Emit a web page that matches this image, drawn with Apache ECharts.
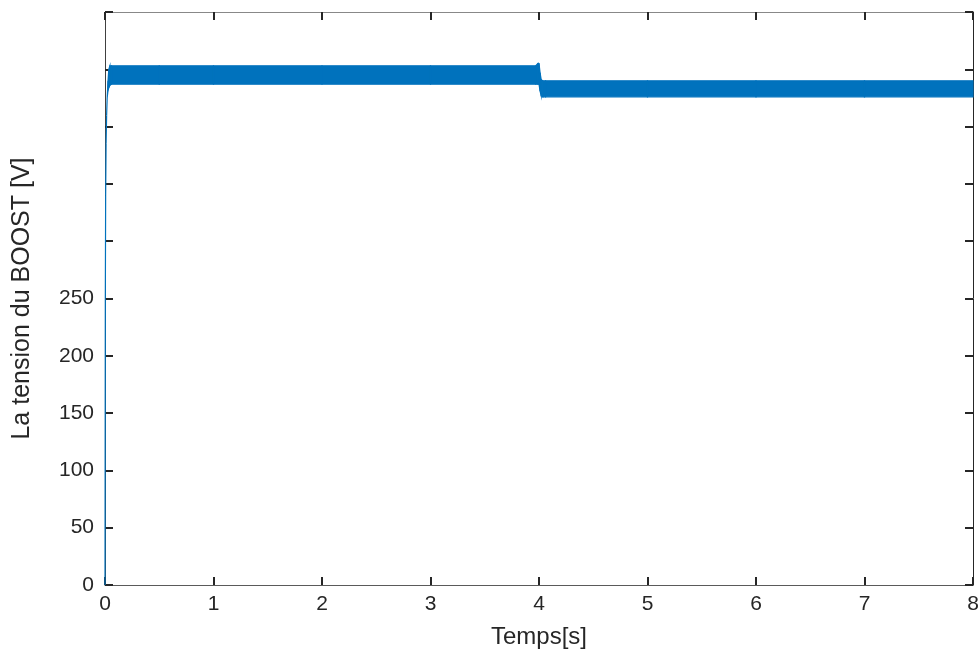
<!DOCTYPE html>
<html>
<head>
<meta charset="utf-8">
<script src="https://cdn.jsdelivr.net/npm/echarts@6/dist/echarts.min.js"></script>
<style>
html,body{margin:0;padding:0;background:#fff;}
#chart{width:980px;height:651px;}
</style>
</head>
<body>
<div id="chart"></div>
<script>
// Time samples [s]
const timeS  = [0, 0.003, 0.006, 0.01, 0.015, 0.02, 0.028, 0.035, 0.045, 0.06, 0.5, 1, 2, 3, 3.97, 3.99, 4.0, 4.01, 4.02, 4.035, 4.06, 5, 6, 7, 8];
// Lower envelope of the boost voltage ripple [V]
const lowerV = [0, 250, 340, 385, 410, 425, 432, 434, 436, 437, 437, 437, 437, 437, 437, 437, 437, 431, 427, 426, 426, 426, 426, 426, 426];
// Upper envelope of the boost voltage ripple [V]
const upperV = [0, 250, 340, 385, 410, 425, 440, 450, 453, 453, 453, 453, 453, 453, 453, 455, 455, 447, 441, 440, 440, 440, 440, 440, 440];
// Axis ticks
const xTicks = [0, 1, 2, 3, 4, 5, 6, 7, 8];
const yLabelled = [0, 50, 100, 150, 200, 250];

const BLUE = '#0072BD';
const TXT = '#262626';
const FONT = 'Liberation Sans, Arial, sans-serif';

// one band segment per consecutive pair of samples
const bandData = [];
for (let i = 0; i < timeS.length - 1; i++) {
  bandData.push([timeS[i], lowerV[i], upperV[i], timeS[i + 1], lowerV[i + 1], upperV[i + 1]]);
}

const chart = echarts.init(document.getElementById('chart'), null, {renderer: 'canvas'});
chart.setOption({
  animation: false,
  backgroundColor: '#fff',
  grid: {left: 105, right: 7, top: 12, bottom: 66, containLabel: false, outerBoundsMode: 'none'},
  xAxis: [{
    type: 'value', min: xTicks[0], max: xTicks[xTicks.length - 1], interval: 1,
    name: 'Temps[s]', nameLocation: 'middle', nameGap: 40,
    nameTextStyle: {fontFamily: FONT, fontSize: 24, color: TXT},
    axisLine: {show: true, onZero: false, lineStyle: {color: '#5a5a5a', width: 1}},
    axisTick: {show: true, inside: true, length: 8, lineStyle: {color: TXT, width: 2}},
    axisLabel: {show: true, margin: 9, fontFamily: FONT, fontSize: 21, color: TXT},
    splitLine: {show: false}
  }, {
    type: 'value', position: 'top', min: 0, max: 8, interval: 1,
    axisLine: {show: true, onZero: false, lineStyle: {color: '#888888', width: 1}},
    axisTick: {show: true, inside: true, length: 8, lineStyle: {color: TXT, width: 2}},
    axisLabel: {show: false}, splitLine: {show: false}
  }],
  yAxis: [{
    type: 'value', min: 0, max: 500, interval: 50,
    name: 'La tension du BOOST [V]', nameLocation: 'middle', nameGap: 70, nameRotate: 90,
    nameTextStyle: {fontFamily: FONT, fontSize: 25, color: TXT},
    axisLine: {show: true, onZero: false, lineStyle: {color: '#404040', width: 1}},
    axisTick: {show: true, inside: true, length: 8, lineStyle: {color: TXT, width: 2}},
    axisLabel: {show: true, margin: 11, fontFamily: FONT, fontSize: 21, color: TXT,
      formatter: v => yLabelled.indexOf(v) >= 0 ? String(v) : ''},
    splitLine: {show: false}
  }, {
    type: 'value', position: 'right', min: 0, max: 500, interval: 50,
    axisLine: {show: true, onZero: false, lineStyle: {color: '#262626', width: 1}},
    axisTick: {show: true, inside: true, length: 8, lineStyle: {color: TXT, width: 2}},
    axisLabel: {show: false}, splitLine: {show: false}
  }],
  series: [{
    type: 'custom', name: 'ripple band', data: bandData,
    xAxisIndex: 0, yAxisIndex: 0, clip: false, z: 5,
    encode: {x: [0, 3], y: [1, 2, 4, 5]},
    renderItem: function (params, api) {
      const a0 = api.coord([api.value(0), api.value(1)]);
      const b0 = api.coord([api.value(0), api.value(2)]);
      const a1 = api.coord([api.value(3), api.value(4)]);
      const b1 = api.coord([api.value(3), api.value(5)]);
      return {
        type: 'polygon',
        shape: {points: [a0, a1, b1, b0]},
        style: {fill: BLUE, stroke: BLUE, lineWidth: 1.2}
      };
    }
  }]
});
</script>
</body>
</html>
